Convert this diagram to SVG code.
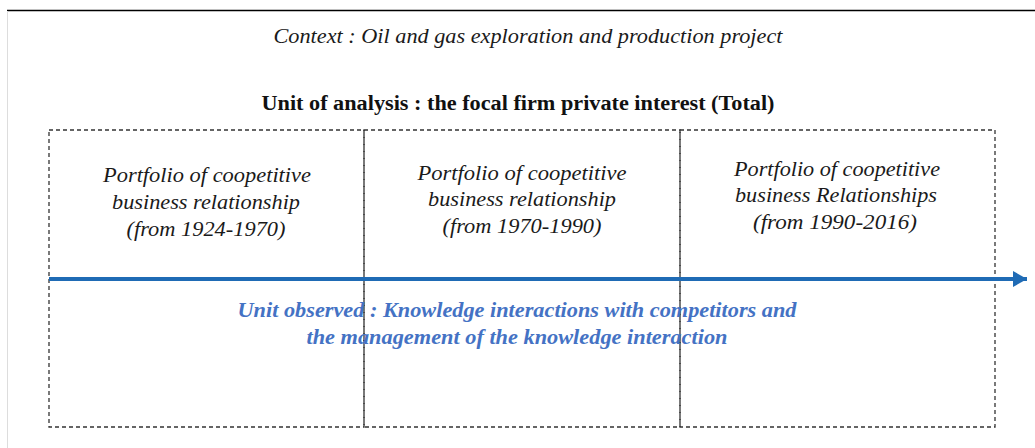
<svg xmlns="http://www.w3.org/2000/svg" width="1035" height="448" viewBox="0 0 1035 448">
<style>
.box{fill:none;stroke:#333;stroke-width:1.3;stroke-dasharray:4 3}
text{font-family:"Liberation Serif",Tinos,"Times New Roman",Times,serif}
.t{font-style:italic;font-size:20px;fill:#1a1a1a;text-anchor:middle}
.b{font-weight:bold;font-size:20px;fill:#111;text-anchor:middle}
.u{font-weight:bold;font-style:italic;font-size:20px;fill:#4472C4;text-anchor:middle}
</style>
<defs>
<marker id="ah" markerWidth="14" markerHeight="16" refX="14" refY="8" orient="auto" markerUnits="userSpaceOnUse">
<path d="M0,0 L14,8 L0,16 Z" fill="#1F6BB5"/>
</marker>
</defs>
<rect width="1035" height="448" fill="#fff"/>
<line x1="7" y1="10.5" x2="1035" y2="10.5" stroke="#000" stroke-width="1.5"/>
<line x1="7.5" y1="11" x2="7.5" y2="448" stroke="#ddd" stroke-width="1"/>
<text class="t" x="528" y="43" textLength="509" lengthAdjust="spacingAndGlyphs">Context : Oil and gas exploration and production project</text>
<text class="b" x="518" y="110" textLength="513" lengthAdjust="spacingAndGlyphs">Unit of analysis : the focal firm private interest (Total)</text>
<g id="box1">
<rect class="box" x="49" y="130" width="315" height="297"/>
<text class="t" x="207" y="182" textLength="208" lengthAdjust="spacingAndGlyphs">Portfolio of coopetitive</text>
<text class="t" x="206" y="209" textLength="188" lengthAdjust="spacingAndGlyphs">business relationship</text>
<text class="t" x="206" y="236" textLength="159" lengthAdjust="spacingAndGlyphs">(from 1924-1970)</text>
</g>
<g id="box2">
<rect class="box" x="364" y="130" width="316" height="297"/>
<text class="t" x="522" y="180" textLength="209" lengthAdjust="spacingAndGlyphs">Portfolio of coopetitive</text>
<text class="t" x="522" y="206" textLength="188" lengthAdjust="spacingAndGlyphs">business relationship</text>
<text class="t" x="522" y="233" textLength="159" lengthAdjust="spacingAndGlyphs">(from 1970-1990)</text>
</g>
<g id="box3">
<rect class="box" x="680" y="130" width="315" height="297"/>
<text class="t" x="837" y="176" textLength="206" lengthAdjust="spacingAndGlyphs">Portfolio of coopetitive</text>
<text class="t" x="836" y="202" textLength="202" lengthAdjust="spacingAndGlyphs">business Relationships</text>
<text class="t" x="835" y="229" textLength="164" lengthAdjust="spacingAndGlyphs">(from 1990-2016)</text>
</g>
<g id="connectors">
<line x1="49" y1="279" x2="1027" y2="279" stroke="#1F6BB5" stroke-width="4" marker-end="url(#ah)"/>
</g>
<g id="observed">
<text class="u" x="517" y="317" textLength="559" lengthAdjust="spacingAndGlyphs">Unit observed : Knowledge interactions with competitors and</text>
<text class="u" x="517" y="344" textLength="421" lengthAdjust="spacingAndGlyphs">the management of the knowledge interaction</text>
</g>
</svg>
